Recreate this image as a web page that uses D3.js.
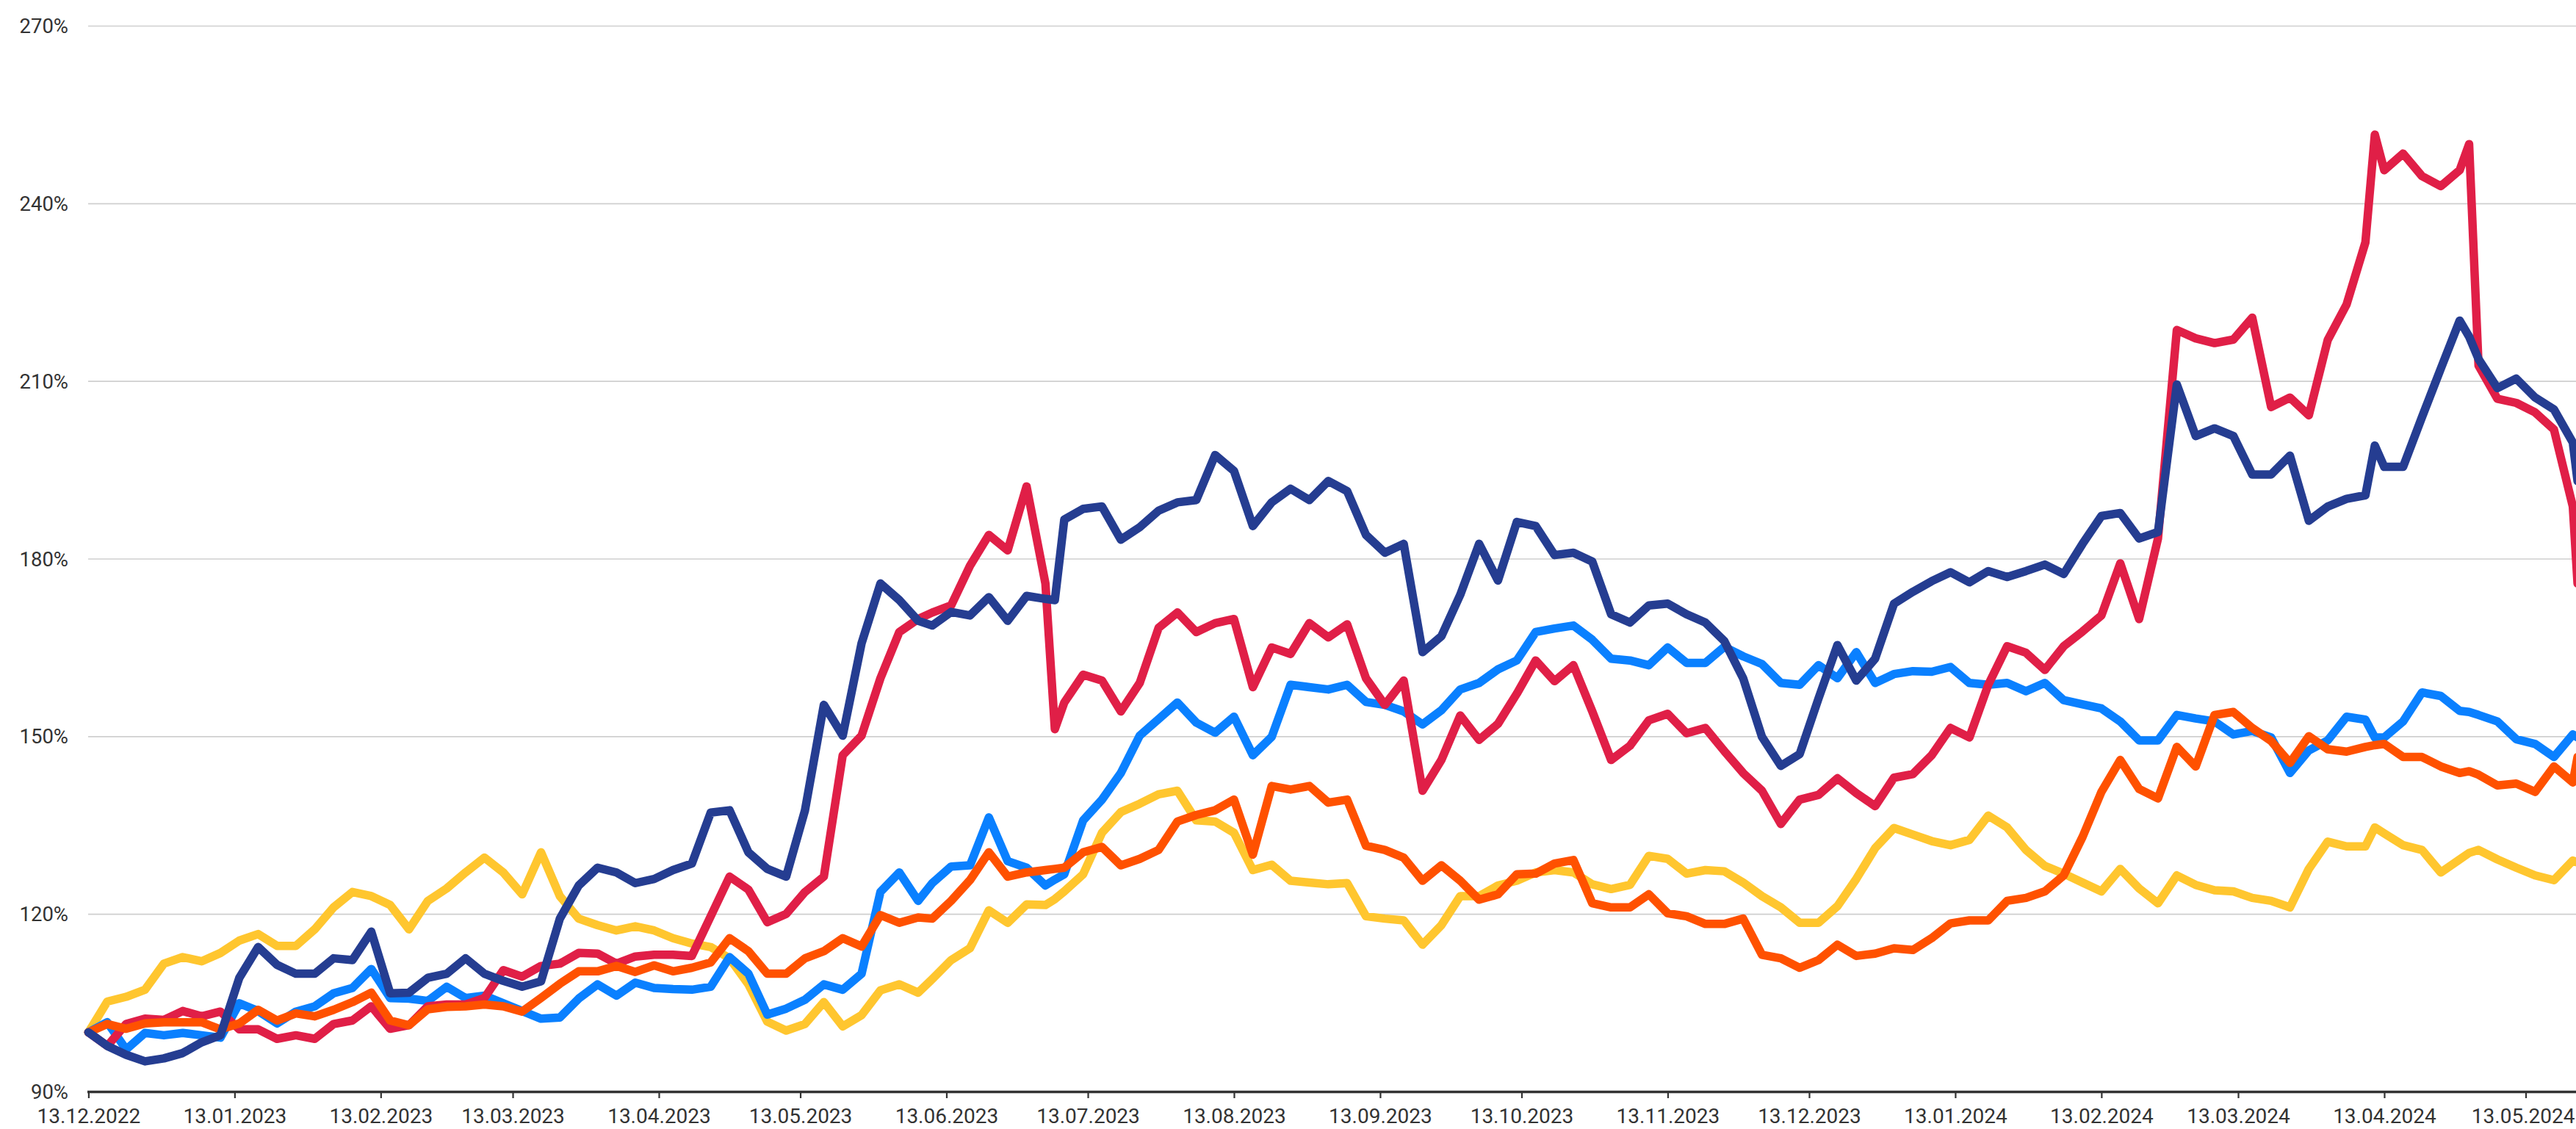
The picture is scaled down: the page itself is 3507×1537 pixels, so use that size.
<!DOCTYPE html>
<html><head><meta charset="utf-8">
<script src="https://cdn.jsdelivr.net/npm/d3@7"></script>
<style>html,body{margin:0;padding:0;background:#fff;overflow:hidden}</style>
</head><body>
<svg id="chart" width="3507" height="1537"></svg>
<script>
const dates = [
"2022-12-13","2022-12-17","2022-12-21","2022-12-25","2022-12-29","2023-01-02","2023-01-06","2023-01-10","2023-01-14","2023-01-18",
"2023-01-22","2023-01-26","2023-01-30","2023-02-03","2023-02-07","2023-02-11","2023-02-15","2023-02-19","2023-02-23","2023-02-27",
"2023-03-03","2023-03-07","2023-03-11","2023-03-15","2023-03-19","2023-03-23","2023-03-27","2023-03-31","2023-04-04","2023-04-08",
"2023-04-12","2023-04-16","2023-04-20","2023-04-24","2023-04-28","2023-05-02","2023-05-06","2023-05-10","2023-05-14","2023-05-18",
"2023-05-22","2023-05-26","2023-05-30","2023-06-03","2023-06-07","2023-06-10","2023-06-14","2023-06-18","2023-06-22","2023-06-26",
"2023-06-30","2023-07-04","2023-07-06","2023-07-08","2023-07-12","2023-07-16","2023-07-20","2023-07-24","2023-07-28","2023-08-01",
"2023-08-05","2023-08-09","2023-08-13","2023-08-17","2023-08-21","2023-08-25","2023-08-29","2023-09-02","2023-09-06","2023-09-10",
"2023-09-14","2023-09-18","2023-09-22","2023-09-26","2023-09-30","2023-10-04","2023-10-08","2023-10-12","2023-10-16","2023-10-20",
"2023-10-24","2023-10-28","2023-11-01","2023-11-05","2023-11-09","2023-11-13","2023-11-17","2023-11-21","2023-11-25","2023-11-29",
"2023-12-03","2023-12-07","2023-12-11","2023-12-15","2023-12-19","2023-12-23","2023-12-27","2023-12-31","2024-01-04","2024-01-08",
"2024-01-12","2024-01-16","2024-01-20","2024-01-24","2024-01-28","2024-02-01","2024-02-05","2024-02-09","2024-02-13","2024-02-17",
"2024-02-21","2024-02-25","2024-02-29","2024-03-04","2024-03-08","2024-03-12","2024-03-16","2024-03-20","2024-03-24","2024-03-28",
"2024-04-01","2024-04-05","2024-04-09","2024-04-11","2024-04-13","2024-04-17","2024-04-21","2024-04-25","2024-04-29","2024-05-01",
"2024-05-03","2024-05-07","2024-05-11","2024-05-15","2024-05-19","2024-05-23","2024-05-24"
];

const yellowValues = [
100,105.2,106.0,107.2,111.6,112.7,112.0,113.4,115.5,116.6,
114.6,114.6,117.4,121.1,123.7,123.0,121.5,117.4,122.2,124.3,
127.0,129.5,127.0,123.3,130.4,123.0,119.2,118.1,117.2,117.9,
117.2,115.9,115.0,114.4,112.5,108.1,101.8,100.3,101.4,105.1,
101.0,102.9,107.1,108.1,106.7,109.0,112.2,114.2,120.6,118.5,
121.6,121.5,122.5,123.8,126.7,133.7,137.2,138.6,140.2,140.8,
135.8,135.6,133.7,127.4,128.3,125.6,125.3,125.0,125.2,119.6,
119.2,118.9,114.8,118.1,123.0,123.0,124.8,125.6,127.0,127.4,
127.0,125.0,124.2,124.9,129.8,129.3,126.8,127.4,127.2,125.3,
123.0,121.1,118.5,118.5,121.3,125.9,131.1,134.5,133.4,132.3,
131.6,132.5,136.6,134.6,130.8,128.1,126.8,125.3,123.8,127.6,
124.3,121.8,126.5,124.9,124.0,123.8,122.7,122.2,121.1,127.6,
132.2,131.4,131.4,134.6,133.6,131.6,130.8,127.0,129.2,130.3,
130.8,129.2,127.8,126.5,125.7,129.0,128.7
];

const blueValues = [
100,101.7,97.1,99.9,99.5,99.9,99.5,99.1,104.9,103.6,
101.5,103.5,104.4,106.6,107.5,110.7,105.8,105.7,105.3,107.7,
105.8,106.2,104.9,103.6,102.3,102.5,105.7,108.1,106.2,108.4,
107.5,107.3,107.2,107.7,112.7,109.9,103.0,104.0,105.5,108.1,
107.2,109.9,123.7,127.0,122.2,125.2,128.0,128.2,136.3,128.9,
127.8,124.8,125.8,126.7,135.8,139.3,143.8,150.1,152.9,155.7,
152.3,150.6,153.3,146.8,149.9,158.7,158.3,157.9,158.7,155.8,
155.3,154.2,152.0,154.4,157.9,159.0,161.3,162.8,167.6,168.2,
168.7,166.3,163.1,162.8,162.0,165.0,162.4,162.4,165.1,163.5,
162.2,159.0,158.7,162.0,159.8,164.2,159.0,160.5,161.0,160.9,
161.7,159.0,158.7,159.0,157.6,159.0,156.1,155.4,154.7,152.5,
149.3,149.3,153.6,153.0,152.5,150.3,150.9,149.8,143.8,147.6,
149.3,153.3,152.8,149.8,149.8,152.5,157.4,156.8,154.3,154.1,
153.6,152.5,149.5,148.7,146.5,150.3,149.8
];

const redValues = [
100,97.7,101.4,102.3,102.1,103.6,102.7,103.5,100.5,100.5,
98.9,99.5,98.9,101.4,102.0,104.4,100.6,101.2,104.4,104.7,
104.7,105.8,110.5,109.4,111.2,111.6,113.4,113.3,111.6,112.8,
113.1,113.1,112.9,119.6,126.3,124.1,118.6,120.0,123.7,126.3,
146.8,150.1,159.8,167.6,169.8,170.9,172.1,178.8,184.0,181.4,
192.2,175.8,151.2,155.7,160.4,159.4,154.2,159.0,168.3,170.9,
167.6,169.1,169.8,158.3,165.0,163.9,169.1,166.7,168.9,159.8,
155.3,159.4,140.8,146.0,153.5,149.4,152.1,157.2,162.8,159.3,
162.0,154.2,146.0,148.4,152.7,153.8,150.5,151.4,147.5,143.8,
140.8,135.2,139.3,140.1,142.9,140.4,138.2,143.0,143.6,146.8,
151.4,149.8,158.7,165.2,164.1,161.2,165.2,167.7,170.4,179.2,
169.8,183.4,218.6,217.2,216.4,217.0,220.7,205.6,207.2,204.2,
216.9,222.9,233.4,251.6,245.6,248.4,244.6,242.9,245.6,250.0,
212.6,207.0,206.3,204.7,201.8,188.8,175.8
];

const orangeValues = [
100,101.4,100.6,101.5,101.7,101.7,101.7,100.5,101.5,103.8,
102.0,103.2,102.7,103.8,105.1,106.7,102.0,101.2,103.9,104.3,
104.4,104.7,104.4,103.5,105.8,108.2,110.3,110.3,111.2,110.2,
111.3,110.3,110.9,111.8,115.9,113.7,109.9,109.9,112.5,113.7,
115.9,114.5,119.8,118.5,119.4,119.2,122.2,125.7,130.4,126.3,
127.0,127.4,127.6,127.8,130.4,131.3,128.2,129.3,130.8,135.6,
136.7,137.5,139.3,130.0,141.6,141.0,141.6,138.8,139.3,131.5,
130.8,129.5,125.6,128.2,125.6,122.4,123.3,126.7,126.8,128.5,
129.1,121.8,121.1,121.1,123.3,120.1,119.6,118.3,118.3,119.2,
113.1,112.5,110.9,112.2,114.8,112.9,113.3,114.2,113.9,115.9,
118.4,118.9,118.9,122.2,122.7,123.8,126.5,133.0,140.6,146.0,
141.1,139.5,148.2,144.9,153.6,154.1,151.4,149.2,145.5,150.0,
147.8,147.4,148.2,148.5,148.7,146.5,146.5,144.9,143.8,144.1,
143.5,141.7,142.0,140.6,144.9,142.2,146.5
];

const navyValues = [
100,97.7,96.2,95.1,95.6,96.5,98.3,99.5,109.2,114.4,
111.4,109.9,109.9,112.5,112.2,117.0,106.6,106.7,109.2,109.9,
112.5,109.9,108.7,107.7,108.6,119.2,124.8,127.8,127.0,125.2,
125.9,127.4,128.5,137.1,137.5,130.4,127.6,126.3,137.5,155.3,
150.1,165.7,175.8,173.0,169.5,168.7,171.0,170.4,173.5,169.5,
173.7,173.2,173.0,186.6,188.4,188.8,183.2,185.3,188.1,189.5,
189.9,197.5,194.8,185.5,189.5,191.8,189.9,193.1,191.4,184.0,
181.0,182.5,164.2,166.9,173.9,182.5,176.3,186.2,185.5,180.6,
181.0,179.5,170.6,169.2,172.1,172.4,170.6,169.2,166.1,159.8,
149.9,145.0,147.0,156.4,165.4,159.4,163.1,172.4,174.4,176.2,
177.7,176.0,177.9,176.9,177.9,179.0,177.4,182.5,187.2,187.7,
183.4,184.5,209.4,200.7,202.0,200.7,194.2,194.2,197.4,186.4,
188.8,190.1,190.7,199.1,195.5,195.5,203.9,212.1,220.2,217.5,
213.7,208.8,210.4,207.2,205.2,199.6,193.1
];

const seriesColors = ["#ffc62f", "#0a80ff", "#e01f47", "#ff5100", "#253d91"];
const yTickValues = [90, 120, 150, 180, 210, 240, 270];
const xTickLabels = ["2022-12-13","2023-01-13","2023-02-13","2023-03-13","2023-04-13","2023-05-13","2023-06-13","2023-07-13","2023-08-13","2023-09-13","2023-10-13","2023-11-13","2023-12-13","2024-01-13","2024-02-13","2024-03-13","2024-04-13","2024-05-13"];

const W = 3507, H = 1537;
const svg = d3.select("#chart");
const parse = d3.utcParse("%Y-%m-%d");
const x = d3.scaleUtc()
  .domain([parse("2022-12-13"), parse("2024-05-13")])
  .range([120.4, 3438.5]);
const y = d3.scaleLinear().domain([90, 270]).range([1486, 35]);

// y gridlines + labels
const yAxis = d3.axisLeft(y)
  .tickValues(yTickValues)
  .tickSize(-(W - 120))
  .tickPadding(27)
  .tickFormat(d => d + "%");
const gy = svg.append("g").attr("transform", "translate(120,0)").call(yAxis);
gy.select(".domain").remove();
gy.selectAll(".tick line").attr("stroke", "#cfcfcf").attr("stroke-width", 1.6);
gy.selectAll(".tick text")
  .attr("font-family", "Roboto, 'Noto Sans', sans-serif")
  .attr("font-size", 27.5)
  .attr("fill", "#333")
  .attr("dy", "0.35em");

// lines
const series = [yellowValues, blueValues, redValues, orangeValues, navyValues];
const dateObjs = dates.map(parse);
const line = d3.line().x((d, i) => x(dateObjs[i])).y(d => y(d));
series.forEach((vals, k) => {
  svg.append("path")
    .datum(vals)
    .attr("d", line)
    .attr("fill", "none")
    .attr("stroke", seriesColors[k])
    .attr("stroke-width", 11.5)
    .attr("stroke-linejoin", "round")
    .attr("stroke-linecap", "round");
});

// x axis
const xAxis = d3.axisBottom(x)
  .tickValues(xTickLabels.map(parse))
  .tickSize(9)
  .tickSizeOuter(0)
  .tickPadding(14)
  .tickFormat(d3.utcFormat("%d.%m.%Y"));
const gx = svg.append("g").attr("transform", "translate(0,1486)").call(xAxis);
gx.select(".domain").remove();
gx.insert("line", ":first-child")
  .attr("x1", 119).attr("x2", W).attr("y1", 0.5).attr("y2", 0.5)
  .attr("stroke", "#333").attr("stroke-width", 3.5);
gx.selectAll(".tick line").attr("stroke", "#333").attr("stroke-width", 2.2);
gx.selectAll(".tick text")
  .attr("font-family", "Roboto, 'Noto Sans', sans-serif")
  .attr("font-size", 28)
  .attr("fill", "#333");
// keep last label inside the picture
gx.selectAll(".tick text").filter((d, i, n) => i === n.length - 1)
  .attr("text-anchor", "end").attr("x", (W - 2) - x(parse("2024-05-13")));
</script>
</body></html>
